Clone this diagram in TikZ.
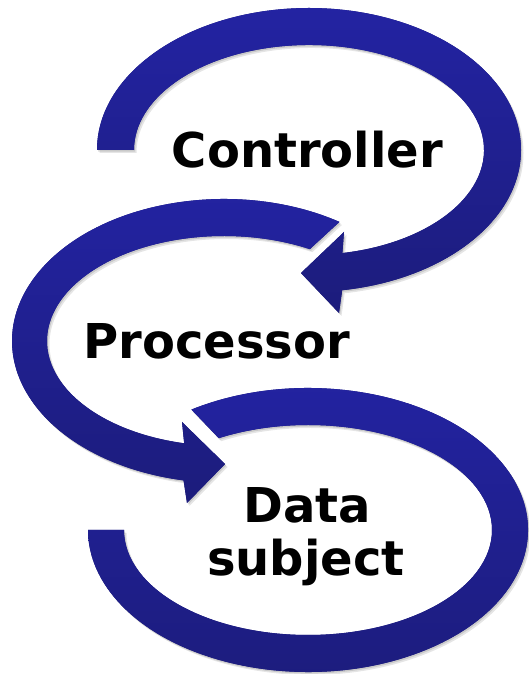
\documentclass[tikz,border=0pt]{standalone}
\usepackage{fontspec}
\setmainfont{DejaVu Sans}
\definecolor{ringtop}{HTML}{2323A2}
\definecolor{ringbot}{HTML}{1C1C7C}
\tikzset{
  ringshape/.style={
    preaction={fill=black, fill opacity=0.10, transform canvas={xshift=2.5pt, yshift=-3pt}},
    preaction={fill=black, fill opacity=0.12, transform canvas={xshift=1.2pt, yshift=-1.6pt}},
    preaction={fill=ringbot},
    top color=ringtop, bottom color=ringbot, draw=none},
  label/.style={font=\bfseries\fontsize{48}{54}\selectfont, text=black, inner sep=0pt, anchor=base, align=center}
}
\begin{document}
\begin{tikzpicture}[x=1pt,y=1pt]
\useasboundingbox (0,0) rectangle (529,674);
% ring 1: Controller (centre 309,524)
\path[ringshape]
  ({309-212},524) arc[start angle=180, end angle=-81, x radius=212, y radius=142]
  -- (339,361) -- (301,401) -- (344,442)
  -- ({309+175*cos(-79)},{524+105*sin(-79)})
  arc[start angle=-79, end angle=180, x radius=175, y radius=105] -- cycle;
% ring 2: Processor (centre 224,333)
\path[ringshape]
  ({224+212*cos(57)},{333+142*sin(57)}) arc[start angle=57, end angle=259, x radius=212, y radius=142]
  -- (187,171) -- (225,210) -- (182,252)
  -- ({224+177*cos(257)},{333+105*sin(257)})
  arc[start angle=257, end angle=61, x radius=177, y radius=105] -- cycle;
% ring 3: Data subject (centre 308,144)
\path[ringshape]
  ({308+220*cos(122)},{144+142*sin(122)}) arc[start angle=122, end angle=-180, x radius=220, y radius=142]
  -- ({308-184},144)
  arc[start angle=-180, end angle=119, x radius=184, y radius=105] -- cycle;
% labels
\node[label] (controller) at (307.5,506) {Controller};
\node[label] (processor) at (216.5,315) {Processor};
\node[label] (data) at (307,151) {Data};
\node[label] (subject) at (306,98) {subject};
\end{tikzpicture}
\end{document}
